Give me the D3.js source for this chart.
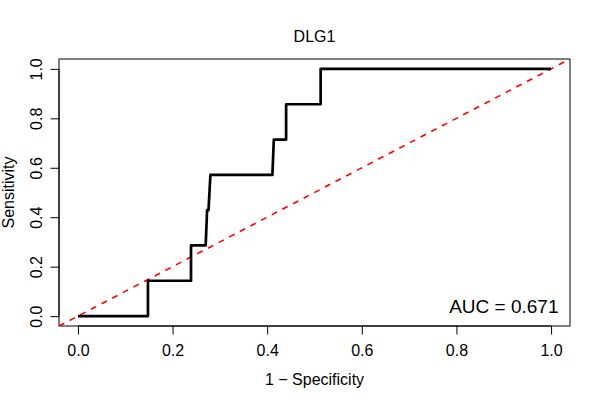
<!DOCTYPE html>
<html>
<head>
<meta charset="utf-8">
<script src="https://cdn.jsdelivr.net/npm/d3@7"></script>
<style>
  body { margin: 0; background: #fff; }
  svg { display: block; font-family: "Liberation Sans", Arial, sans-serif; }
</style>
</head>
<body>
<svg id="chart"></svg>
<script>
// ROC curve vertices (1 - specificity, sensitivity)
const fpr = [0, 0.148, 0.148, 0.239, 0.239, 0.270, 0.273, 0.276, 0.280, 0.411, 0.414, 0.440, 0.440, 0.513, 0.513, 1.0];
const tpr = [0, 0, 0.143, 0.143, 0.286, 0.286, 0.429, 0.429, 0.571, 0.571, 0.714, 0.714, 0.857, 0.857, 1.0, 1.0];
const xTicks = [0, 0.2, 0.4, 0.6, 0.8, 1.0];
const yTicks = [0, 0.2, 0.4, 0.6, 0.8, 1.0];
const aucLabel = "AUC = 0.671";
const title = "DLG1";

const width = 600;
const height = 400;
const box = { left: 59, right: 570, top: 59, bottom: 326 };

const svg = d3.select("#chart")
  .attr("width", width)
  .attr("height", height);

// R style: axis range padded 4% on each side
const x = d3.scaleLinear().domain([-0.04, 1.04]).range([box.left, box.right]);
const y = d3.scaleLinear().domain([-0.04, 1.04]).range([box.bottom, box.top]);

svg.append("defs").append("clipPath")
  .attr("id", "plot-clip")
  .append("rect")
  .attr("x", box.left)
  .attr("y", box.top)
  .attr("width", box.right - box.left)
  .attr("height", box.bottom - box.top);

// x axis
const xAxis = d3.axisBottom(x)
  .tickValues(xTicks)
  .tickFormat(d3.format(".1f"))
  .tickSize(8.5)
  .tickPadding(9.8);

const gx = svg.append("g")
  .attr("transform", `translate(0,${box.bottom})`)
  .call(xAxis);
gx.select(".domain").remove();
gx.selectAll("text").attr("font-size", 16).attr("font-family", null).attr("fill", "#000");
gx.selectAll("line").attr("stroke", "#000");
gx.append("line")
  .attr("x1", x(xTicks[0])).attr("x2", x(xTicks[xTicks.length - 1]))
  .attr("stroke", "#000");

// y axis, labels rotated like R's las=0
const yAxis = d3.axisLeft(y)
  .tickValues(yTicks)
  .tickFormat(d3.format(".1f"))
  .tickSize(8.5);

const gy = svg.append("g")
  .attr("transform", `translate(${box.left},0)`)
  .call(yAxis);
gy.select(".domain").remove();
gy.selectAll("line").attr("stroke", "#000");
gy.selectAll("text")
  .attr("font-size", 16)
  .attr("font-family", null)
  .attr("fill", "#000")
  .attr("x", 0)
  .attr("y", -17.3)
  .attr("dy", null)
  .attr("text-anchor", "middle")
  .attr("transform", "rotate(-90)");
gy.append("line")
  .attr("y1", y(yTicks[0])).attr("y2", y(yTicks[yTicks.length - 1]))
  .attr("stroke", "#000");

// plot frame
svg.append("rect")
  .attr("x", box.left)
  .attr("y", box.top)
  .attr("width", box.right - box.left)
  .attr("height", box.bottom - box.top)
  .attr("fill", "none")
  .attr("stroke", "#000")
  .attr("stroke-width", 1);

// chance diagonal (abline 0,1), clipped to the plot region
svg.append("line")
  .attr("clip-path", "url(#plot-clip)")
  .attr("x1", x(-0.04)).attr("y1", y(-0.04))
  .attr("x2", x(1.04)).attr("y2", y(1.04))
  .attr("stroke", "#ff0000")
  .attr("stroke-width", 1.6)
  .attr("stroke-dasharray", "6,6");

// ROC curve
const rocLine = d3.line()
  .x((d, i) => x(fpr[i]))
  .y((d, i) => y(tpr[i]));

svg.append("path")
  .datum(fpr)
  .attr("d", rocLine)
  .attr("fill", "none")
  .attr("stroke", "#000")
  .attr("stroke-width", 2.7)
  .attr("stroke-linejoin", "round");

// AUC annotation
svg.append("text")
  .attr("x", 558.5)
  .attr("y", 312.5)
  .attr("text-anchor", "end")
  .attr("font-size", 19)
  .text(aucLabel);

// titles
svg.append("text")
  .attr("x", (box.left + box.right) / 2)
  .attr("y", 42)
  .attr("text-anchor", "middle")
  .attr("font-size", 16)
  .text(title);

svg.append("text")
  .attr("x", (box.left + box.right) / 2)
  .attr("y", 384.5)
  .attr("text-anchor", "middle")
  .attr("font-size", 16)
  .text("1 \u2212 Specificity");

svg.append("text")
  .attr("transform", `translate(13.5,${(box.top + box.bottom) / 2}) rotate(-90)`)
  .attr("text-anchor", "middle")
  .attr("font-size", 16)
  .text("Sensitivity");
</script>
</body>
</html>
